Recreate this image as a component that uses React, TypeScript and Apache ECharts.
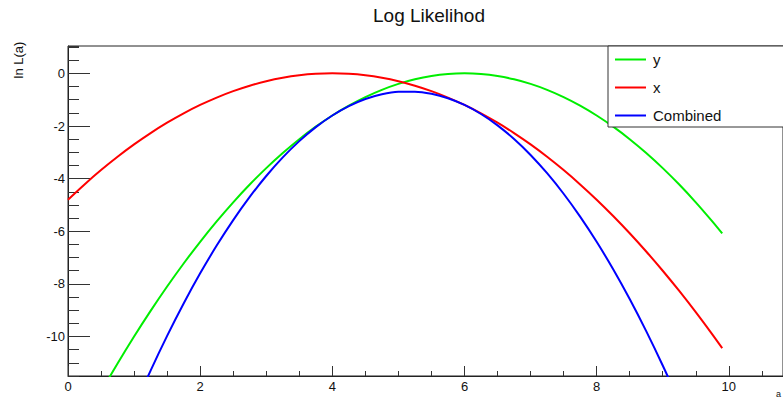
import React, { useEffect, useRef } from "react";
import * as echarts from "echarts";

const aValues = [0, 0.25, 0.5, 0.75, 1, 1.25, 1.5, 1.75, 2, 2.25, 2.5, 2.75, 3, 3.25, 3.5, 3.75, 4, 4.25, 4.5, 4.75, 5, 5.25, 5.5, 5.75, 6, 6.25, 6.5, 6.75, 7, 7.25, 7.5, 7.75, 8, 8.25, 8.5, 8.75, 9, 9.25, 9.5, 9.75, 9.9];
const yLikelihood = [-14.4, -13.225, -12.1, -11.025, -10, -9.025, -8.1, -7.225, -6.4, -5.625, -4.9, -4.225, -3.6, -3.025, -2.5, -2.025, -1.6, -1.225, -0.9, -0.625, -0.4, -0.225, -0.1, -0.025, 0, -0.025, -0.1, -0.225, -0.4, -0.625, -0.9, -1.225, -1.6, -2.025, -2.5, -3.025, -3.6, -4.225, -4.9, -5.625, -6.084];
const xLikelihood = [-4.8, -4.219, -3.675, -3.169, -2.7, -2.269, -1.875, -1.519, -1.2, -0.919, -0.675, -0.469, -0.3, -0.169, -0.075, -0.019, 0, -0.019, -0.075, -0.169, -0.3, -0.469, -0.675, -0.919, -1.2, -1.519, -1.875, -2.269, -2.7, -3.169, -3.675, -4.219, -4.8, -5.419, -6.075, -6.769, -7.5, -8.269, -9.075, -9.919, -10.443];
const combinedLikelihood = [-19.2, -17.444, -15.775, -14.194, -12.7, -11.294, -9.975, -8.744, -7.6, -6.544, -5.575, -4.694, -3.9, -3.194, -2.575, -2.044, -1.6, -1.244, -0.975, -0.794, -0.7, -0.694, -0.775, -0.944, -1.2, -1.544, -1.975, -2.494, -3.1, -3.794, -4.575, -5.444, -6.4, -7.444, -8.575, -9.794, -11.1, -12.494, -13.975, -15.544, -16.527];

const seriesNames = ["y", "x", "Combined"];
const seriesColors = ["#00ee00", "#ff0000", "#0000ff"];
const xMajorTicks = [0, 2, 4, 6, 8, 10];
const yMajorTicks = [-10, -8, -6, -4, -2, 0];

const FONT = "'Liberation Sans', Arial, Helvetica, sans-serif";

export default function App() {
  const ref = useRef<HTMLDivElement>(null);
  useEffect(() => {
    document.body.style.margin = "0";
    const chart = echarts.init(ref.current!, null, { renderer: "svg" });
    const pairs = (vals: number[]) => aValues.map((a, i) => [a, vals[i]]);
    const allData = [yLikelihood, xLikelihood, combinedLikelihood];
    chart.setOption({
      animation: false,
      backgroundColor: "#ffffff",
      textStyle: { fontFamily: FONT },
      title: {
        text: "Log Likelihod",
        left: 373,
        top: 6,
        padding: 0,
        textStyle: { fontSize: 19, fontWeight: "normal", color: "#111", fontFamily: FONT },
      },
      grid: {
        left: 68,
        top: 46,
        right: 0,
        bottom: 24,
        show: true,
        borderColor: "#222",
        borderWidth: 1,
        backgroundColor: "#fff",
      },
      legend: {
        orient: "vertical",
        left: 615,
        top: 52,
        padding: 0,
        icon: "rect",
        itemWidth: 31,
        itemHeight: 2,
        itemGap: 13,
        z: 30,
        data: seriesNames,
        textStyle: { fontSize: 15, color: "#111", fontFamily: FONT, padding: [0, 0, 0, 2] },
      },
      xAxis: [
        {
          type: "value",
          min: 0,
          max: 10.82,
          interval: 2,
          position: "bottom",
          axisLine: { show: true, onZero: false, lineStyle: { color: "#222", width: 1 } },
          axisTick: { show: true, inside: true, length: 10, lineStyle: { color: "#333" }, customValues: xMajorTicks },
          axisLabel: { show: true, margin: 4, fontSize: 13, color: "#111", fontFamily: FONT, customValues: xMajorTicks },
          splitLine: { show: false },
        },
        {
          type: "value",
          min: 0,
          max: 10.82,
          interval: 0.5,
          position: "bottom",
          axisLine: { show: false, onZero: false },
          axisTick: { show: true, inside: true, length: 5, lineStyle: { color: "#333" } },
          axisLabel: { show: false },
          splitLine: { show: false },
        },
      ],
      yAxis: [
        {
          type: "value",
          min: -11.5,
          max: 1.04,
          splitNumber: 6,
          position: "left",
          axisLine: { show: true, onZero: false, lineStyle: { color: "#222", width: 1 } },
          axisTick: { show: true, inside: true, length: 22, lineStyle: { color: "#333" }, customValues: yMajorTicks },
          axisLabel: {
            show: true,
            margin: 3,
            fontSize: 13,
            color: "#111",
            fontFamily: FONT,
            customValues: yMajorTicks,
          },
          splitLine: { show: false },
        },
        {
          type: "value",
          min: -11.5,
          max: 1.04,
          interval: 0.5,
          position: "left",
          axisLine: { show: false, onZero: false },
          axisTick: { show: true, inside: true, length: 11, lineStyle: { color: "#333" } },
          axisLabel: { show: false },
          splitLine: { show: false },
        },
      ],
      graphic: [
        {
          type: "rect",
          z: 20,
          shape: { x: 608, y: 46, width: 200, height: 81 },
          style: { fill: "#ffffff", stroke: "#333", lineWidth: 1 },
        },
        {
          type: "text",
          z: 20,
          x: 18,
          y: 60,
          rotation: Math.PI / 2,
          style: {
            text: "ln L(a)",
            fontSize: 13,
            fontFamily: FONT,
            fill: "#111",
            align: "center",
            verticalAlign: "middle",
          },
        },
        {
          type: "text",
          z: 20,
          x: 776,
          y: 389,
          style: { text: "a", fontSize: 9, fontFamily: FONT, fill: "#111" },
        },
      ],
      series: seriesNames.map((name, i) => ({
        name,
        type: "line",
        xAxisIndex: 0,
        yAxisIndex: 0,
        data: pairs(allData[i]),
        smooth: 0.3,
        symbol: "none",
        clip: true,
        z: 2 + i,
        lineStyle: { color: seriesColors[i], width: 2 },
        itemStyle: { color: seriesColors[i] },
      })),
    });
    return () => chart.dispose();
  }, []);
  return <div ref={ref} style={{ position: "absolute", left: 0, top: 0, width: 783, height: 400 }} />;
}
